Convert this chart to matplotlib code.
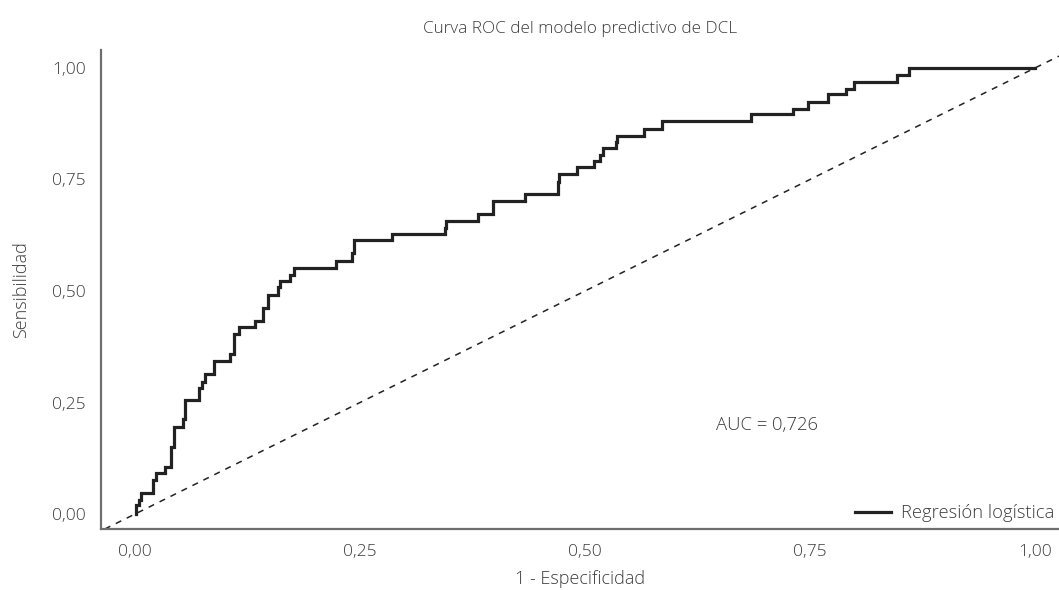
import matplotlib.pyplot as plt

# ROC vertices (x of each rise, height after the rise)
fpr = [0.001, 0.001, 0.004, 0.007, 0.020, 0.023, 0.033, 0.040, 0.043, 0.053,
       0.056, 0.071, 0.074, 0.078, 0.088, 0.105, 0.110, 0.116, 0.133, 0.142,
       0.148, 0.159, 0.161, 0.172, 0.177, 0.223, 0.241, 0.243, 0.286, 0.344,
       0.346, 0.381, 0.398, 0.433, 0.470, 0.471, 0.491, 0.510, 0.517, 0.520,
       0.534, 0.536, 0.565, 0.585, 0.684, 0.731, 0.748, 0.770, 0.790, 0.799,
       0.847, 0.860, 1.0]
tpr = [0.0, 0.020, 0.031, 0.046, 0.076, 0.091, 0.106, 0.151, 0.196, 0.212,
       0.256, 0.282, 0.297, 0.315, 0.344, 0.359, 0.404, 0.420, 0.433, 0.463,
       0.491, 0.508, 0.523, 0.536, 0.551, 0.567, 0.585, 0.614, 0.628, 0.641,
       0.658, 0.673, 0.702, 0.717, 0.744, 0.762, 0.777, 0.791, 0.805, 0.820,
       0.835, 0.848, 0.864, 0.881, 0.896, 0.908, 0.924, 0.941, 0.952, 0.968,
       0.984, 1.0, 1.0]
ticks = [0.0, 0.25, 0.5, 0.75, 1.0]
tick_labels = ["0,00", "0,25", "0,50", "0,75", "1,00"]
auc_text = "AUC = 0,726"

plt.rcParams['font.family'] = ['Open Sans', 'DejaVu Sans']
plt.rcParams['font.weight'] = 'light'
plt.rcParams['axes.titleweight'] = 'light'
plt.rcParams['axes.labelweight'] = 'light'
grey = "#3c3c3c"
fs = 12.5

fig = plt.figure(figsize=(10.59, 5.90), dpi=100)
ax = fig.add_axes([0.0954, 0.1034, 0.9046, 0.8116])

ax.plot(fpr, tpr, drawstyle="steps-post", color="#222222", lw=2.3,
        label="Regresión logística", solid_joinstyle="miter")
ax.axline((0, 0), (1, 1), color="#222222", lw=1.1, ls=(0, (4, 4)))

ax.set_xlim(-0.0378, 1.0267)
ax.set_ylim(-0.0336, 1.040)
ax.set_xticks(ticks)
ax.set_xticklabels(tick_labels)
ax.set_yticks(ticks)
ax.set_yticklabels(tick_labels)
ax.tick_params(length=0, labelsize=fs, colors=grey)
ax.tick_params(axis="x", pad=11)
ax.tick_params(axis="y", pad=11)

for s in ["top", "right"]:
    ax.spines[s].set_visible(False)
for s in ["left", "bottom"]:
    ax.spines[s].set_color("#6e6e6e")
    ax.spines[s].set_linewidth(1.6)

ax.set_xlabel("1 - Especificidad", fontsize=13, color=grey, labelpad=7)
ax.set_ylabel("Sensibilidad", fontsize=13, color=grey, labelpad=16)
ax.set_title("Curva ROC del modelo predictivo de DCL", fontsize=12.3,
             color=grey, pad=12)

ax.text(0.646, 0.2, auc_text, fontsize=13.3, color=grey, va="center")

ax.legend(loc="lower right", bbox_to_anchor=(1.012, -0.02), frameon=False,
          fontsize=13.2, labelcolor=grey, handlelength=2.0, handletextpad=0.5)

fig.savefig("out.png", dpi=100)
